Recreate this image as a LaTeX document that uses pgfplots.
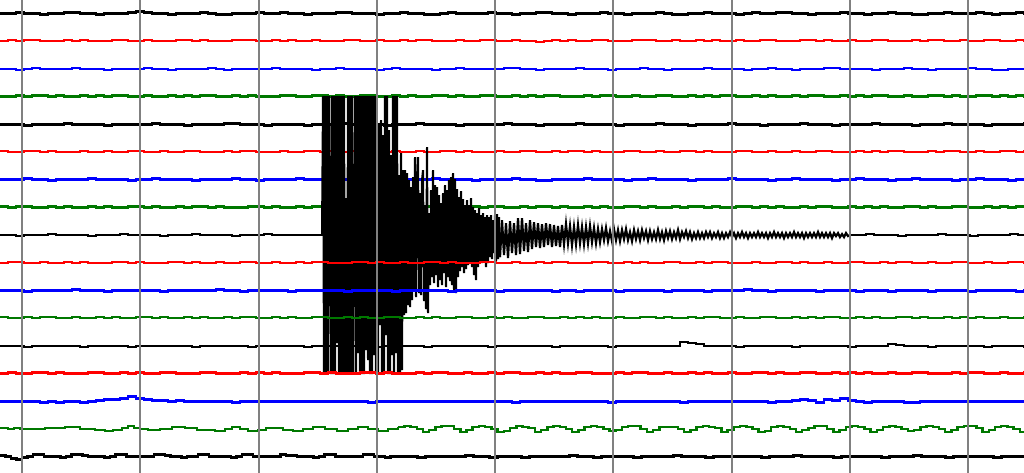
\documentclass[border=0pt]{standalone}
\usepackage{pgfplots}
\pgfplotsset{compat=1.18}
\definecolor{trgreen}{RGB}{0,120,0}
\definecolor{trred}{RGB}{255,0,0}
\definecolor{trblue}{RGB}{0,0,255}
\definecolor{gridgray}{RGB}{128,128,128}
\pgfplotsset{qt/.style={const plot, no marks, line width=2.5pt}}
\newcommand{\trace}[3]{\addplot[qt,#1] table[row sep=\\, header=false, x expr=\coordindex*8, y expr=#2-(\thisrowno{0})] {#3};}
\begin{document}
\begin{tikzpicture}
\begin{axis}[
  width=1024pt, height=473pt, scale only axis,
  xmin=0, xmax=1024, ymin=0, ymax=473, y dir=reverse,
  axis line style={draw=none}, ticks=none, clip=true,
]
% 1 black
\trace{black}{13.5}{0\\0\\1\\0\\0\\-1\\0\\0\\1\\1\\0\\0\\
-1\\0\\0\\0\\1\\2\\1\\0\\0\\-1\\0\\0\\
0\\1\\0\\-1\\-1\\0\\0\\0\\1\\0\\0\\1\\
0\\0\\-1\\0\\0\\0\\1\\1\\0\\0\\0\\-1\\
0\\0\\1\\0\\0\\-1\\-1\\0\\1\\0\\0\\0\\
0\\1\\0\\0\\-1\\0\\0\\1\\1\\0\\0\\-1\\
0\\0\\0\\1\\0\\0\\-1\\0\\0\\0\\1\\0\\
-1\\-1\\0\\0\\1\\0\\0\\0\\-1\\0\\1\\0\\
0\\1\\1\\0\\0\\-1\\0\\0\\0\\1\\0\\0\\
-1\\0\\0\\1\\0\\0\\-1\\-1\\0\\0\\1\\0\\
0\\0\\1\\0\\-1\\0\\0\\1\\0\\0\\-1\\0\\}
% 2 red
\trace{trred}{41.2}{0\\1\\0\\1\\1\\0\\0\\0\\1\\0\\1\\0\\
0\\0\\1\\1\\0\\0\\1\\0\\0\\0\\1\\1\\
0\\1\\0\\0\\0\\1\\1\\1\\0\\0\\1\\0\\
1\\0\\0\\1\\0\\0\\0\\1\\1\\0\\0\\1\\
0\\0\\1\\0\\1\\1\\0\\0\\0\\1\\0\\0\\
1\\1\\0\\0\\1\\0\\0\\-1\\0\\1\\0\\1\\
0\\0\\1\\1\\0\\0\\0\\1\\1\\1\\0\\0\\
1\\0\\0\\1\\0\\1\\0\\0\\1\\0\\0\\1\\
1\\0\\0\\0\\1\\1\\0\\1\\0\\0\\1\\0\\
0\\1\\1\\0\\0\\0\\1\\0\\1\\1\\0\\0\\
1\\0\\0\\1\\1\\0\\0\\1\\0\\0\\1\\0\\}
% 3 blue
\trace{trblue}{68.9}{0\\0\\-1\\0\\1\\0\\0\\0\\0\\1\\0\\0\\
0\\-1\\0\\0\\0\\0\\1\\0\\0\\-1\\0\\0\\
0\\0\\1\\0\\-1\\0\\0\\0\\0\\0\\1\\0\\
0\\0\\0\\-1\\0\\0\\1\\0\\0\\0\\0\\-1\\
0\\1\\0\\0\\0\\0\\-1\\0\\0\\1\\0\\0\\
0\\0\\0\\1\\1\\0\\0\\-1\\0\\0\\0\\0\\
1\\0\\0\\0\\-1\\0\\0\\0\\1\\0\\0\\-1\\
0\\0\\0\\0\\1\\0\\0\\0\\0\\-1\\0\\0\\
1\\0\\0\\-1\\0\\0\\0\\1\\1\\0\\0\\0\\
0\\-1\\0\\0\\0\\1\\0\\0\\-1\\0\\0\\0\\
0\\1\\0\\0\\-1\\-1\\0\\0\\0\\1\\0\\0\\}
% 4 green
\trace{trgreen}{96.6}{0\\0\\1\\0\\1\\1\\0\\1\\0\\0\\1\\0\\
1\\0\\1\\1\\0\\0\\1\\0\\0\\1\\0\\1\\
0\\1\\1\\0\\0\\1\\0\\1\\0\\0\\0\\1\\
1\\0\\0\\1\\1\\0\\1\\0\\0\\1\\1\\0\\
0\\1\\0\\1\\0\\0\\1\\1\\0\\1\\0\\0\\
1\\1\\0\\0\\1\\0\\1\\0\\1\\1\\0\\0\\
0\\1\\0\\1\\1\\0\\0\\1\\0\\0\\1\\1\\
0\\0\\1\\0\\1\\0\\1\\1\\0\\0\\1\\0\\
1\\0\\0\\1\\0\\1\\1\\0\\0\\1\\0\\1\\
0\\1\\1\\0\\0\\1\\0\\0\\1\\1\\0\\1\\
0\\0\\1\\1\\0\\1\\0\\1\\0\\0\\1\\0\\}
% 5 black
\trace{black}{124.3}{0\\0\\0\\-1\\0\\0\\0\\0\\1\\0\\0\\0\\
0\\-1\\0\\0\\0\\0\\0\\1\\0\\0\\0\\-1\\
0\\0\\0\\0\\1\\1\\0\\0\\0\\-1\\0\\0\\
0\\0\\-1\\0\\0\\0\\0\\1\\0\\0\\0\\0\\
-1\\0\\0\\0\\1\\0\\0\\0\\0\\-1\\0\\0\\
0\\0\\0\\1\\0\\0\\0\\-1\\0\\0\\0\\0\\
1\\0\\0\\0\\0\\-1\\0\\0\\0\\0\\1\\0\\
0\\0\\-1\\0\\0\\0\\0\\1\\0\\0\\0\\-1\\
0\\0\\0\\0\\1\\0\\0\\0\\-1\\0\\0\\0\\
0\\1\\0\\0\\0\\0\\-1\\0\\0\\0\\1\\0\\
0\\0\\0\\-1\\0\\0\\0\\0\\1\\0\\0\\0\\}
% 6 red
\trace{trred}{152}{1\\0\\0\\1\\1\\0\\1\\0\\0\\0\\1\\0\\
0\\1\\0\\0\\1\\1\\0\\0\\1\\0\\0\\1\\
1\\0\\0\\0\\1\\0\\1\\1\\0\\0\\0\\1\\
0\\0\\1\\1\\0\\1\\0\\0\\1\\1\\0\\0\\
0\\1\\0\\0\\1\\0\\0\\1\\1\\0\\1\\0\\
0\\0\\1\\0\\0\\1\\1\\0\\0\\1\\0\\1\\
1\\0\\1\\0\\0\\0\\1\\1\\0\\0\\1\\0\\
0\\1\\1\\0\\1\\0\\0\\0\\1\\1\\0\\0\\
1\\0\\0\\1\\0\\0\\1\\1\\0\\0\\0\\1\\
0\\1\\0\\1\\1\\0\\0\\0\\1\\0\\1\\1\\
0\\0\\1\\0\\0\\1\\1\\0\\1\\0\\0\\1\\}
% 7 blue
\trace{trblue}{179.7}{0\\0\\0\\1\\0\\0\\-1\\0\\0\\0\\0\\1\\
0\\0\\0\\0\\-1\\0\\0\\1\\0\\0\\0\\0\\
-1\\0\\0\\0\\0\\1\\0\\0\\-1\\0\\0\\0\\
0\\1\\0\\0\\0\\-1\\0\\0\\0\\0\\1\\0\\
0\\0\\-1\\0\\0\\0\\1\\0\\0\\0\\0\\-1\\
0\\0\\0\\0\\1\\0\\0\\-1\\-1\\0\\0\\0\\
0\\1\\0\\0\\0\\0\\-1\\0\\0\\1\\0\\0\\
0\\0\\-1\\0\\0\\0\\0\\1\\0\\0\\0\\0\\
-1\\0\\0\\1\\0\\0\\0\\0\\-1\\0\\0\\1\\
0\\0\\0\\-1\\0\\0\\1\\0\\0\\0\\0\\-1\\
0\\0\\1\\0\\0\\0\\-1\\0\\0\\0\\1\\0\\}
% 8 green
\trace{trgreen}{207.4}{1\\0\\1\\1\\0\\0\\1\\0\\1\\0\\0\\1\\
0\\1\\0\\0\\1\\1\\0\\1\\0\\0\\1\\0\\
1\\1\\0\\1\\0\\0\\0\\1\\1\\0\\1\\0\\
0\\1\\0\\1\\1\\0\\1\\0\\0\\1\\0\\1\\
1\\0\\0\\1\\0\\1\\1\\0\\1\\0\\0\\1\\
0\\1\\1\\0\\0\\1\\0\\1\\1\\0\\1\\0\\
0\\1\\0\\1\\0\\0\\1\\1\\0\\1\\0\\0\\
1\\0\\1\\1\\0\\1\\0\\0\\1\\1\\0\\1\\
0\\1\\0\\0\\1\\0\\1\\1\\0\\0\\1\\0\\
1\\0\\1\\0\\0\\1\\1\\0\\1\\0\\0\\1\\
1\\0\\0\\1\\0\\1\\0\\1\\1\\0\\1\\0\\}
% 9 black: quiet before, event, coda, quiet after
\trace{black}{235.1}{0\\0\\-1\\0\\0\\0\\1\\0\\0\\0\\0\\-1\\
0\\0\\0\\1\\0\\0\\0\\0\\-1\\0\\0\\0\\
1\\0\\0\\0\\0\\-1\\0\\0\\0\\1\\0\\0\\
0\\0\\0\\0\\0\\0\\}
\addplot[sharp plot, no marks, black, line width=2pt] table[row sep=\\, header=false, x index=0, y expr=235.1-(\thisrowno{1})] {
322 0\\323 139\\324 -139\\325 139\\326 -139\\327 139\\328 -139\\329 139\\330 18\\331 -139\\
332 139\\333 -139\\334 139\\335 -139\\336 139\\337 -108\\338 139\\339 -139\\340 139\\341 -139\\
342 139\\343 -139\\344 139\\345 -139\\346 37\\347 -139\\348 139\\349 -139\\350 139\\351 -139\\
352 139\\353 -139\\354 -3\\355 139\\356 -139\\357 139\\358 -118\\359 139\\360 -139\\361 139\\
362 -139\\363 139\\364 -139\\365 139\\366 -115\\367 139\\368 -125\\369 139\\370 -139\\371 139\\
372 -139\\373 139\\374 -120\\375 139\\376 -139\\377 108\\378 -139\\379 110\\380 -90\\381 115\\
382 -139\\383 100\\384 -139\\385 139\\386 -100\\387 139\\388 -139\\389 105\\390 -139\\391 80\\
392 -120\\393 139\\394 -139\\395 139\\396 -118\\397 139\\398 -139\\399 60\\400 -139\\401 82\\
402 -135\\403 65\\404 -80\\405 65\\406 -78\\407 62\\408 -70\\409 55\\410 -72\\411 48\\
412 -65\\413 58\\414 -55\\415 78\\416 -62\\417 50\\418 78\\419 -58\\420 42\\421 -60\\
422 55\\423 65\\424 -66\\425 30\\426 -74\\427 88\\428 -78\\429 22\\430 -50\\431 45\\
432 -42\\433 65\\434 -48\\435 50\\436 -40\\437 48\\438 -52\\439 40\\440 -45\\441 32\\
442 -50\\443 42\\444 -38\\445 50\\446 -52\\447 45\\448 -42\\449 55\\450 -46\\451 58\\
452 -50\\453 62\\454 -55\\455 56\\456 -58\\457 46\\458 -42\\459 38\\460 -36\\461 44\\
462 -32\\463 36\\464 -38\\465 30\\466 -34\\467 35\\468 -30\\469 30\\470 -28\\471 37\\
472 -32\\473 28\\474 -40\\475 25\\476 -45\\477 22\\478 -32\\479 27\\480 -26\\481 20\\
482 -28\\483 22\\484 -26\\485 18\\486 -32\\487 20\\488 -28\\489 18\\490 -22\\491 20\\
492 -24\\493 15\\494 -18\\495 20\\496 -26\\497 21\\498 -24\\499 18\\500 -22\\
};
\addplot[sharp plot, no marks, black, line width=2.2pt] table[row sep=\\, header=false, x expr=500+\coordindex*2, y expr=235.1-(\thisrowno{0})] {
-22\\15\\-20\\12\\-23\\14\\-18\\12\\-20\\17\\-19\\17\\-16\\12\\-17\\15\\-14\\13\\-12\\12\\
-13\\11\\-12\\12\\-10\\11\\-12\\10\\-11\\9\\-12\\10\\-9\\11\\-8\\9\\-10\\8\\-9\\10\\
-8\\8\\-9\\8\\-8\\9\\-7\\7\\-8\\6\\-7\\6\\-5\\7\\-6\\4\\-6\\6\\-5\\5\\
-6\\5\\-4\\6\\-5\\3\\-6\\5\\-4\\4\\-5\\5\\-3\\4\\-5\\4\\-4\\3\\-4\\5\\
-4\\3\\-5\\4\\-3\\4\\-4\\3\\-3\\5\\-4\\3\\-2\\4\\-3\\3\\-4\\2\\-3\\3\\
-3\\2\\-3\\3\\-2\\3\\-3\\2\\-2\\3\\-3\\2\\-3\\2\\-2\\3\\-2\\2\\-3\\2\\
-2\\3\\-2\\2\\-3\\2\\-2\\2\\-2\\3\\-2\\2\\-2\\2\\-3\\2\\-2\\3\\-2\\2\\
-2\\2\\-3\\2\\-2\\2\\-2\\3\\-2\\2\\-2\\2\\-3\\2\\-2\\2\\-2\\2\\-2\\3\\
-2\\2\\-2\\2\\-2\\2\\-3\\2\\-1\\2\\-2\\1\\-2\\2\\-1\\0\\};
\addplot[qt, black] table[row sep=\\, header=false, x expr=850+\coordindex*8, y expr=235.1-(\thisrowno{0})] {0\\0\\1\\0\\0\\0\\-1\\0\\0\\0\\0\\1\\
0\\0\\0\\-1\\0\\0\\0\\0\\1\\0\\0\\};
% 10 red
\trace{trred}{262.8}{0\\1\\1\\0\\0\\1\\0\\0\\1\\0\\1\\0\\
0\\0\\1\\1\\0\\1\\0\\0\\0\\1\\1\\0\\
1\\0\\0\\1\\0\\0\\1\\1\\0\\0\\1\\0\\
0\\1\\0\\1\\1\\0\\0\\0\\1\\1\\0\\1\\
0\\0\\1\\0\\0\\1\\1\\0\\1\\0\\0\\0\\
1\\1\\0\\0\\1\\0\\0\\1\\0\\1\\1\\0\\
0\\0\\1\\1\\0\\0\\1\\0\\1\\0\\0\\1\\
1\\0\\0\\1\\0\\1\\1\\0\\0\\0\\1\\0\\
0\\1\\1\\0\\1\\0\\0\\1\\0\\0\\1\\1\\
0\\0\\1\\0\\1\\1\\0\\0\\1\\0\\0\\1\\
1\\0\\0\\1\\0\\0\\1\\1\\0\\1\\0\\0\\}
% 11 blue
\trace{trblue}{290.5}{0\\0\\0\\-1\\0\\0\\0\\0\\0\\1\\0\\0\\
0\\-1\\0\\0\\0\\0\\0\\0\\-1\\0\\0\\0\\
0\\0\\0\\1\\0\\0\\-1\\0\\0\\0\\0\\0\\
-1\\0\\0\\0\\0\\0\\0\\-1\\0\\0\\0\\0\\
0\\-1\\0\\0\\0\\0\\0\\0\\-1\\0\\0\\0\\
0\\0\\-1\\0\\0\\0\\0\\0\\0\\-1\\0\\0\\
-1\\0\\0\\0\\0\\-1\\0\\0\\0\\0\\0\\-1\\
0\\0\\0\\0\\-1\\0\\0\\0\\0\\1\\0\\0\\
-1\\0\\0\\0\\0\\0\\-1\\0\\0\\0\\0\\-1\\
0\\0\\0\\-1\\0\\0\\0\\0\\-1\\0\\0\\0\\
0\\-1\\0\\0\\0\\0\\0\\-1\\0\\0\\0\\0\\}
% 12 green
\trace{trgreen}{318.2}{1\\0\\0\\1\\0\\1\\1\\0\\0\\1\\0\\0\\
1\\0\\1\\0\\0\\1\\1\\0\\1\\0\\0\\1\\
0\\1\\0\\0\\1\\0\\1\\1\\0\\0\\1\\0\\
1\\0\\0\\1\\1\\0\\0\\1\\0\\1\\0\\0\\
1\\1\\0\\0\\1\\0\\1\\0\\0\\1\\1\\0\\
0\\1\\0\\1\\0\\0\\1\\1\\0\\0\\1\\0\\
1\\0\\1\\0\\0\\1\\0\\0\\1\\1\\0\\1\\
0\\0\\1\\0\\1\\1\\0\\0\\1\\0\\0\\1\\
1\\0\\0\\1\\0\\1\\0\\1\\1\\0\\0\\1\\
0\\1\\0\\0\\1\\1\\0\\1\\0\\0\\1\\0\\
1\\0\\1\\0\\0\\1\\0\\0\\1\\1\\0\\0\\}
% 13 black
\trace{black}{345.9}{0\\0\\0\\-1\\0\\0\\0\\0\\0\\0\\-1\\0\\
0\\0\\0\\0\\-1\\0\\0\\0\\0\\0\\0\\0\\
-1\\0\\0\\0\\0\\0\\0\\-1\\0\\0\\0\\0\\
0\\0\\-1\\0\\0\\0\\0\\0\\0\\0\\0\\-1\\
0\\0\\0\\0\\0\\-1\\0\\0\\0\\0\\0\\0\\
0\\-1\\0\\0\\0\\0\\0\\0\\0\\-1\\0\\0\\
0\\0\\0\\0\\-1\\0\\0\\0\\0\\0\\0\\0\\
0\\4\\3\\2\\0\\0\\0\\0\\-1\\0\\0\\0\\
0\\0\\0\\-1\\0\\0\\0\\0\\0\\0\\-1\\0\\
0\\0\\0\\2\\1\\0\\0\\0\\-1\\0\\0\\0\\
0\\0\\0\\-1\\0\\0\\0\\0\\-1\\-1\\0\\0\\}
% 14 red
\trace{trred}{373.6}{0\\1\\0\\0\\1\\1\\0\\1\\0\\0\\0\\1\\
1\\0\\0\\1\\0\\1\\0\\0\\1\\1\\0\\0\\
0\\1\\1\\0\\0\\0\\1\\0\\1\\0\\1\\0\\
0\\0\\1\\1\\0\\1\\0\\0\\0\\1\\1\\0\\
1\\0\\0\\0\\1\\0\\1\\1\\0\\0\\1\\0\\
0\\1\\0\\1\\1\\0\\0\\1\\0\\1\\0\\0\\
1\\1\\0\\0\\0\\1\\0\\1\\1\\0\\0\\1\\
0\\0\\1\\0\\1\\0\\0\\1\\0\\0\\1\\1\\
0\\1\\0\\0\\1\\1\\0\\0\\1\\0\\1\\0\\
1\\0\\0\\1\\0\\0\\1\\1\\0\\0\\0\\1\\
0\\1\\1\\0\\0\\1\\0\\0\\1\\0\\1\\0\\}
% 15 blue
\trace{trblue}{401.3}{0\\0\\0\\0\\0\\-1\\0\\-1\\0\\0\\-1\\0\\
1\\2\\2\\3\\5\\3\\2\\1\\1\\0\\1\\0\\
0\\0\\0\\0\\0\\-1\\0\\0\\0\\0\\0\\0\\
0\\0\\0\\0\\0\\0\\0\\0\\0\\0\\-1\\0\\
0\\0\\0\\0\\0\\0\\0\\0\\0\\0\\0\\0\\
0\\0\\0\\0\\-1\\0\\0\\0\\0\\0\\0\\0\\
0\\0\\0\\0\\-1\\0\\0\\0\\0\\0\\0\\0\\
0\\-1\\0\\0\\0\\0\\0\\0\\0\\0\\0\\0\\
-1\\0\\0\\1\\2\\1\\-1\\2\\1\\3\\1\\0\\
-1\\0\\0\\0\\0\\-1\\-1\\0\\0\\0\\0\\0\\
0\\0\\0\\0\\0\\0\\0\\0\\0\\0\\0\\0\\}
% 16 green: wave
\addplot[qt, trgreen] table[row sep=\\, header=false, x index=0, y expr=429-(\thisrowno{1})] {
0 1\\8 0\\14 1\\20 0\\45 1\\65 2\\80 0\\95 -1\\105 -2\\113 -1\\122 1\\128 3\\134 1\\140 0\\
148 -1\\160 0\\172 2\\185 1\\197 -1\\215 -2\\225 0\\232 2\\240 0\\248 -2\\258 -1\\266 1\\
275 1\\283 -1\\293 -2\\303 0\\313 2\\325 0\\337 -2\\348 0\\358 2\\368 0\\378 -2\\388 0\\398.13 2\\};
\addplot[qt, trgreen] table[row sep=\\, header=false, x expr=398.13+\coordindex*6.217, y expr=429-(\thisrowno{0})] {
2\\3\\2\\0\\-3\\-1\\2\\3\\3\\0\\-3\\-1\\2\\3\\2\\0\\-3\\-2\\1\\3\\2\\1\\-3\\-1\\
2\\3\\2\\0\\-3\\-1\\2\\3\\2\\0\\-2\\-1\\2\\3\\3\\0\\-3\\-1\\2\\2\\2\\0\\-3\\-1\\
2\\3\\2\\1\\-3\\-1\\2\\3\\2\\0\\-3\\-2\\2\\3\\2\\0\\-3\\-1\\1\\3\\3\\0\\-3\\-1\\
2\\3\\2\\0\\-3\\-1\\2\\3\\2\\0\\-2\\-1\\2\\3\\2\\0\\-3\\-1\\2\\3\\3\\1\\-3\\-1\\
2\\3\\2\\0\\-3\\-1\\2\\3\\};
% 17 black
\addplot[qt, black] table[row sep=\\, header=false, x expr=\coordindex*5.5, y expr=456.7-(\thisrowno{0})] {
1\\0\\-2\\-3\\-1\\0\\2\\2\\0\\0\\0\\-1\\0\\2\\2\\1\\0\\0\\0\\-1\\0\\2\\2\\0\\
0\\0\\0\\0\\2\\2\\1\\0\\0\\-1\\0\\0\\2\\2\\0\\0\\0\\0\\-1\\0\\2\\2\\0\\0\\
0\\0\\0\\2\\1\\1\\0\\0\\0\\-1\\0\\2\\2\\0\\0\\0\\0\\0\\2\\2\\0\\0\\-1\\0\\0\\2\\};
\addplot[qt, black] table[row sep=\\, header=false, x expr=401.5+\coordindex*8, y expr=456.7-(\thisrowno{0})] {
0\\0\\-1\\0\\0\\0\\0\\0\\1\\0\\0\\-1\\0\\0\\0\\-1\\0\\0\\0\\0\\0\\1\\0\\0\\
-1\\0\\0\\0\\0\\-1\\0\\0\\0\\0\\1\\0\\0\\0\\-1\\0\\0\\0\\0\\0\\0\\-1\\0\\0\\
0\\1\\0\\0\\0\\0\\-1\\0\\0\\0\\0\\0\\-1\\0\\0\\0\\1\\0\\0\\0\\-1\\0\\0\\0\\
0\\0\\-1\\0\\0\\0\\0\\1\\0\\0\\};
% grid lines
\addplot[gridgray, line width=2pt] coordinates {(22,0) (22,473)};
\addplot[gridgray, line width=2pt] coordinates {(140.25,0) (140.25,473)};
\addplot[gridgray, line width=2pt] coordinates {(258.5,0) (258.5,473)};
\addplot[gridgray, line width=2pt] coordinates {(376.75,0) (376.75,473)};
\addplot[gridgray, line width=2pt] coordinates {(495,0) (495,473)};
\addplot[gridgray, line width=2pt] coordinates {(613.25,0) (613.25,473)};
\addplot[gridgray, line width=2pt] coordinates {(731.5,0) (731.5,473)};
\addplot[gridgray, line width=2pt] coordinates {(849.75,0) (849.75,473)};
\addplot[gridgray, line width=2pt] coordinates {(968,0) (968,473)};
\end{axis}
\end{tikzpicture}
\end{document}
